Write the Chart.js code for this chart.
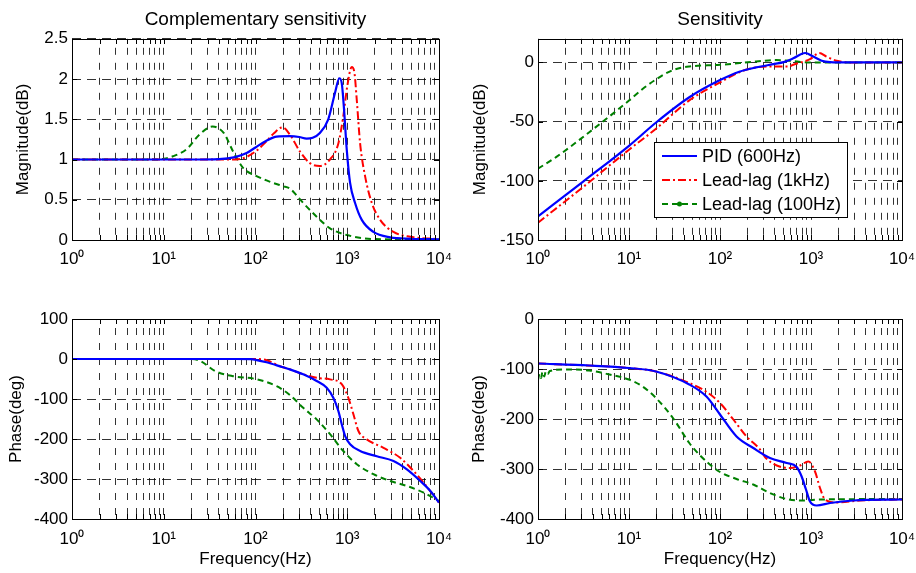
<!DOCTYPE html>
<html>
<head>
<meta charset="utf-8">
<script src="https://cdn.jsdelivr.net/npm/chart.js@4.4.1/dist/chart.umd.min.js"></script>
<style>
  html, body { margin: 0; padding: 0; background: #fff; }
  #fig { position: relative; width: 916px; height: 573px; }
  #fig canvas { position: absolute; }
</style>
</head>
<body>
<div id="fig">
  <canvas id="tl" width="458" height="290" style="left:0;top:0"></canvas>
  <canvas id="tr" width="458" height="290" style="left:458px;top:0"></canvas>
  <canvas id="bl" width="458" height="283" style="left:0;top:290px"></canvas>
  <canvas id="br" width="458" height="283" style="left:458px;top:290px"></canvas>
</div>
<script>
// frequency axis (Hz), same for all four panels
const decadeHz = [1, 10, 100, 1000, 10000]
const decadeLabels = ['10\u2070', '10\u00b9', '10\u00b2', '10\u00b3', '10\u2074']

// y tick values per panel
const cmTicks = [0, 0.5, 1, 1.5, 2, 2.5]
const smTicks = [-150, -100, -50, 0]
const cpTicks = [-400, -300, -200, -100, 0, 100]
const spTicks = [-400, -300, -200, -100, 0]

const seriesNames = ['PID (600Hz)', 'Lead-lag (1kHz)', 'Lead-lag (100Hz)']

// --- complementary sensitivity, magnitude
const cmPidHz = [1, 20, 40, 60, 80, 100, 130, 170, 237, 300, 361, 420, 503, 621, 736, 820, 871, 923, 988, 1074, 1217, 1440, 1928, 2937, 5000, 10000]
const cmPid = [1, 1, 1.005, 1.03, 1.08, 1.15, 1.23, 1.285, 1.29, 1.28, 1.26, 1.27, 1.33, 1.5, 1.83, 2.01, 1.95, 1.62, 1.12, 0.71, 0.46, 0.25, 0.10, 0.033, 0.015, 0.008]
const cmLl1kHz = [1, 20, 50, 70, 100, 130, 160, 197, 237, 305, 392, 503, 647, 800, 906, 1000, 1119, 1197, 1270, 1381, 1566, 1853, 2282, 3190, 4853, 10000]
const cmLl1k = [1, 1, 1, 1.01, 1.10, 1.22, 1.33, 1.40, 1.31, 1.10, 0.955, 0.92, 1.0, 1.2, 1.54, 1.91, 2.15, 2.08, 1.74, 1.2, 0.79, 0.46, 0.25, 0.10, 0.04, 0.01]
const cmLl100Hz = [1, 8, 10, 12.6, 17.8, 24.5, 34, 45, 57, 74, 100, 132, 197, 237, 282, 331, 464, 649, 988, 1928, 10000]
const cmLl100 = [1, 1, 1.01, 1.04, 1.13, 1.31, 1.41, 1.33, 1.1, 0.89, 0.8, 0.74, 0.67, 0.64, 0.55, 0.46, 0.29, 0.145, 0.062, 0.012, 0.003]

// --- sensitivity, magnitude
const smPidHz = [1, 3.16, 10, 20, 46, 100, 163, 249, 400, 500, 640, 860, 1060, 1310, 1620, 2500, 10000]
const smPid = [-130, -100.4, -70.4, -50.5, -29.4, -14.9, -7.8, -4.2, -1.2, 0.3, 3.5, 8, 5, 1.5, 0.3, 0, 0]
const smLl1kHz = [1, 3.16, 10, 19.8, 46, 100, 178, 249, 412, 575, 639, 975, 1233, 1489, 1916, 2800, 10000]
const smLl1k = [-135.4, -105, -73.7, -56, -32, -16.8, -7, -4.2, -3.4, -3.4, -1.9, 2.8, 7.9, 4.8, 1.4, 0, 0]
const smLl100Hz = [1, 1.58, 3.66, 10, 14.1, 19.8, 30.4, 46, 100, 249, 412, 575, 1000, 10000]
const smLl100 = [-89.7, -80, -58.9, -32.2, -22.4, -14.3, -6.4, -3.4, -2, 0.8, 2, 1.4, 0, 0]

// --- complementary sensitivity, phase
const cpPidHz = [1, 60, 90, 100, 132, 195, 237, 331, 464, 597, 705, 800, 871, 946, 1074, 1381, 2100, 3190, 4467, 6250, 8040, 10000]
const cpPid = [0, 0, -0.5, -2, -8, -20, -26, -38.4, -55, -72, -97, -130, -163, -192, -213, -230, -243, -255, -276, -305, -330, -359]
const cpLl1kHz = [1, 90, 120, 132, 195, 237, 331, 464, 649, 871, 1028, 1167, 1324, 1633, 2483, 3776, 5284, 6797, 10000]
const cpLl1k = [0, 0, -1, -3, -20, -26, -38, -47, -51, -63, -97, -138, -180, -201, -222, -247, -280, -309, -359]
const cpLl100Hz = [1, 19, 24.5, 37, 57, 100, 170, 237, 331, 464, 649, 906, 1270, 1928, 2937, 4467, 6797, 10000]
const cpLl100 = [0, 0, -4, -31, -43, -50, -68, -90, -122, -151, -188, -230, -263, -288, -305, -317.5, -334, -355]

// --- sensitivity, phase
const spPidHz = [1, 3.66, 10, 19.8, 46, 71, 100, 152, 232, 354, 540, 696, 789, 881, 975, 1154, 1618, 2917, 10000]
const spPid = [-89, -93, -98, -105, -131, -155, -191, -235, -258, -278, -288, -296, -315, -341, -365, -373, -368, -363, -361]
const spLl1kHz = [1, 10, 19.8, 46, 70, 100, 140, 196, 275, 312, 420, 588, 757, 934, 1107, 1256, 1426, 1916, 3451, 10000]
const spLl1k = [-89, -98, -105, -128, -145, -168, -201, -235, -261, -276, -293, -298, -293, -285, -305, -338, -361, -367, -363, -361]
const spLl100Hz = [1, 1.04, 1.08, 1.12, 1.17, 1.22, 1.28, 1.35, 2, 3.66, 6.1, 10, 14.1, 19.8, 30.4, 46, 59, 74, 100, 152, 232, 354, 540, 823, 1256, 10000]
const spLl100 = [-122, -110, -118, -106, -115, -105, -110, -104, -101, -103, -111, -121, -135, -158, -198, -248, -271, -288, -306, -320, -331, -348, -360, -363, -361, -360]


Chart.defaults.font.family = '"Liberation Sans", Arial, sans-serif'
Chart.defaults.color = '#000'

// log grid: 1..9 in every decade
var gridHz = []
decadeHz.slice(0, -1).forEach(d => { for (let m = 1; m < 10; m++) gridHz.push(d * m) })
gridHz.push(10000)

const gridColor = 'rgba(0,0,0,0.8)'

const styles = [
  {borderColor: '#0000ff', borderWidth: 2.2, borderDash: []},
  {borderColor: '#ff0000', borderWidth: 2, borderDash: [8, 3, 2, 3]},
  {borderColor: '#008000', borderWidth: 2, borderDash: [6, 4], legendDot: true}
]

function pts(hz, vals) {
  return hz.map((f, i) => ({x: f, y: vals[i]}))
}

// black frame round the axes plus inward ticks on all four sides (matlab "box on")
const axesBox = {
  id: 'axesBox',
  afterDatasetsDraw(chart) {
    const {ctx, chartArea: a, scales} = chart
    const l = Math.round(a.left), t = Math.round(a.top)
    const r = Math.round(a.right), b = Math.round(a.bottom)
    const tick = 5
    ctx.save()
    ctx.strokeStyle = '#000'
    ctx.lineWidth = 1
    ctx.setLineDash([])
    ctx.beginPath()
    scales.x.ticks.forEach(tk => {
      const px = Math.round(scales.x.getPixelForValue(tk.value)) + 0.5
      ctx.moveTo(px, b); ctx.lineTo(px, b - tick)
      ctx.moveTo(px, t); ctx.lineTo(px, t + tick)
    })
    scales.y.ticks.forEach(tk => {
      const py = Math.round(scales.y.getPixelForValue(tk.value)) + 0.5
      ctx.moveTo(l, py); ctx.lineTo(l + tick, py)
      ctx.moveTo(r, py); ctx.lineTo(r - tick, py)
    })
    ctx.stroke()
    ctx.strokeRect(l + 0.5, t + 0.5, r - l, b - t)
    ctx.restore()
  }
}

// legend drawn inside the plot with a frame
const legendBox = {
  id: 'legendBox',
  afterDatasetsDraw(chart, args, o) {
    const {ctx, chartArea: a} = chart
    const x0 = Math.round(a.left + o.dx), y0 = Math.round(a.top + o.dy)
    ctx.save()
    ctx.fillStyle = '#fff'
    ctx.fillRect(x0, y0, o.w, o.h)
    ctx.strokeStyle = '#000'
    ctx.lineWidth = 1
    ctx.strokeRect(x0 + 0.5, y0 + 0.5, o.w, o.h)
    ctx.font = '18px "Liberation Sans", Arial, sans-serif'
    ctx.textBaseline = 'middle'
    chart.data.datasets.forEach((ds, i) => {
      const y = y0 + o.rowTop + i * o.rowGap
      ctx.strokeStyle = ds.borderColor
      ctx.lineWidth = ds.borderWidth
      ctx.setLineDash(ds.borderDash || [])
      ctx.beginPath()
      ctx.moveTo(x0 + 8, y)
      ctx.lineTo(x0 + 43, y)
      ctx.stroke()
      if (ds.legendDot) {
        ctx.fillStyle = ds.borderColor
        ctx.beginPath()
        ctx.arc(x0 + 25.5, y, 2.5, 0, Math.PI * 2)
        ctx.fill()
      }
      ctx.fillStyle = '#000'
      ctx.fillText(ds.label, x0 + 48, y + 1)
    })
    ctx.restore()
  }
}

function makeChart(id, cfg) {
  const datasets = cfg.series.map((s, i) => Object.assign({
    label: seriesNames[i],
    data: pts(s[0], s[1]),
    showLine: true,
    pointRadius: 0,
    fill: false,
    cubicInterpolationMode: 'monotone'
  }, styles[i]))

  return new Chart(document.getElementById(id), {
    type: 'scatter',
    data: {datasets: datasets},
    options: {
      responsive: false,
      animation: false,
      layout: {padding: {left: 0, right: cfg.padRight, top: cfg.padTop, bottom: 0}},
      plugins: {
        legend: {display: false},
        tooltip: {enabled: false},
        title: {
          display: !!cfg.title, text: cfg.title || '', fullSize: false, color: '#000',
          font: {size: 19, weight: 'normal'}, padding: {top: 8, bottom: 8}
        },
        legendBox: cfg.legend || {}
      },
      scales: {
        x: {
          type: 'logarithmic', position: 'bottom', min: 1, max: 10000,
          afterBuildTicks: s => { s.ticks = gridHz.map(v => ({value: v})) },
          afterFit: s => { s.height = cfg.xHeight; s.paddingLeft = 0; s.paddingRight = 0 },
          ticks: {
            autoSkip: false, maxRotation: 0, minRotation: 0, color: '#000',
            font: {size: 17}, padding: cfg.xTickPad,
            callback: v => { const i = decadeHz.indexOf(v); return i < 0 ? '' : decadeLabels[i] }
          },
          grid: {color: gridColor, lineWidth: 1, drawTicks: false},
          border: {display: false, dash: [7, 8], dashOffset: 6},
          title: {
            display: !!cfg.xTitle, text: cfg.xTitle || '', color: '#000',
            font: {size: 17}, padding: {top: 0, bottom: 3}
          }
        },
        y: {
          min: cfg.yMin, max: cfg.yMax,
          afterBuildTicks: s => { s.ticks = cfg.yTicks.map(v => ({value: v})) },
          afterFit: s => { s.width = cfg.yWidth; s.paddingTop = 0; s.paddingBottom = 0 },
          ticks: {color: '#000', font: {size: 17}, padding: 4, callback: v => String(v)},
          grid: {color: gridColor, lineWidth: 1, drawTicks: false},
          border: {display: false, dash: [9, 6]},
          title: {
            display: true, text: cfg.yTitle, color: '#000',
            font: {size: 17}, padding: {top: cfg.yTitlePad, bottom: 0}
          }
        }
      }
    },
    plugins: cfg.legend ? [axesBox, legendBox] : [axesBox]
  })
}

makeChart('tl', {
  title: 'Complementary sensitivity', yTitle: 'Magnitude(dB)',
  yMin: 0, yMax: 2.5, yTicks: cmTicks,
  yWidth: 72, yTitlePad: 13, padRight: 19, padTop: 0, xHeight: 50, xTickPad: 9,
  series: [[cmPidHz, cmPid], [cmLl1kHz, cmLl1k], [cmLl100Hz, cmLl100]]
})

makeChart('tr', {
  title: 'Sensitivity', yTitle: 'Magnitude(dB)',
  yMin: -150, yMax: 20, yTicks: smTicks,
  yWidth: 80, yTitlePad: 12, padRight: 14, padTop: 0, xHeight: 50, xTickPad: 9,
  series: [[smPidHz, smPid], [smLl1kHz, smLl1k], [smLl100Hz, smLl100]],
  legend: {dx: 116, dy: 103, w: 193, h: 75, rowTop: 14, rowGap: 24}
})

makeChart('bl', {
  xTitle: 'Frequency(Hz)', yTitle: 'Phase(deg)',
  yMin: -400, yMax: 100, yTicks: cpTicks,
  yWidth: 72, yTitlePad: 6, padRight: 19, padTop: 29, xHeight: 54, xTickPad: 10,
  series: [[cpPidHz, cpPid], [cpLl1kHz, cpLl1k], [cpLl100Hz, cpLl100]]
})

makeChart('br', {
  xTitle: 'Frequency(Hz)', yTitle: 'Phase(deg)',
  yMin: -400, yMax: 0, yTicks: spTicks,
  yWidth: 80, yTitlePad: 11, padRight: 14, padTop: 29, xHeight: 54, xTickPad: 10,
  series: [[spPidHz, spPid], [spLl1kHz, spLl1k], [spLl100Hz, spLl100]]
})
</script>
</body>
</html>
